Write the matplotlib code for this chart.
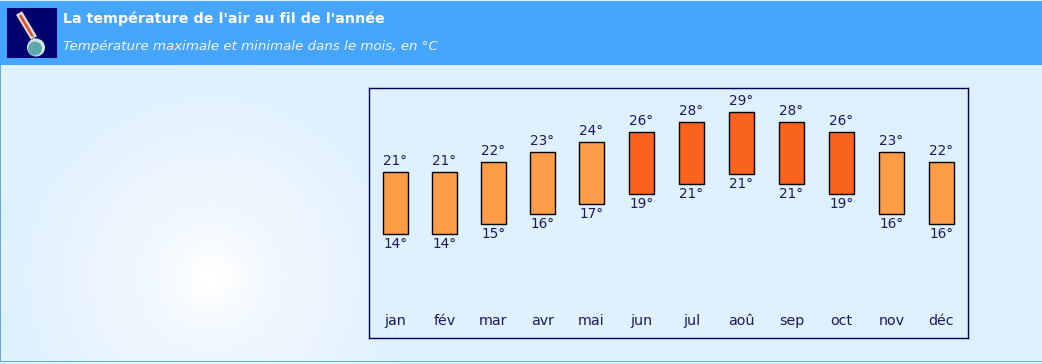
import numpy as np
import matplotlib
matplotlib.use('Agg')
import matplotlib.pyplot as plt
from matplotlib.patches import Circle, Rectangle

plt.rcParams['font.family'] = 'DejaVu Sans'

months = ['jan', 'fév', 'mar', 'avr', 'mai', 'jun', 'jul', 'aoû', 'sep', 'oct', 'nov', 'déc']
# printed values
temp_max = [21, 21, 22, 23, 24, 26, 28, 29, 28, 26, 23, 22]
temp_min = [14, 14, 15, 16, 17, 19, 21, 21, 21, 19, 16, 16]
# the bars in the picture do not follow the printed numbers, so keep what is drawn
bar_top = [21, 21, 22, 23, 24, 25, 26, 27, 26, 25, 23, 22]
bar_bottom = [14.8, 14.8, 15.8, 16.8, 17.8, 18.8, 19.8, 20.8, 19.8, 18.8, 16.8, 15.8]

title = "La température de l'air au fil de l'année"
subtitle = 'Température maximale et minimale dans le mois, en °C'

W, H = 1042, 364
NAVY = '#000050'
TEXT = '#1a1a60'
ORANGE = '#ff9c47'
HOT = '#f9631f'

fig = plt.figure(figsize=(W / 100, H / 100), dpi=100)

# page background in pixel coordinates
bg = fig.add_axes([0, 0, 1, 1])
bg.set_xlim(0, W)
bg.set_ylim(H, 0)
bg.axis('off')

# pale blue with a soft white glow low on the left
yy, xx = np.mgrid[0:H, 0:W]
dist = np.sqrt((xx - 210) ** 2 + (yy - 277) ** 2)
glow = 0.75 * np.clip(1 - dist / 220, 0, 1) + 0.3 * np.exp(-(dist / 38) ** 2)
base = np.array([223, 240, 255]) / 255
img = base + (1 - base)[None, None, :] * np.clip(glow, 0, 1)[:, :, None]
bg.imshow(img, extent=[0, W, H, 0], aspect='auto', zorder=0)

# header band and thin edges
bg.add_patch(Rectangle((0, 1), W, 64, fc='#45a5ff', ec='none', zorder=1))
bg.add_patch(Rectangle((0, 65), 1, 296, fc='#5aaef0', ec='none', zorder=1))
bg.add_patch(Rectangle((0, 361), 400, 1, fc='#5aaef0', ec='none', zorder=1))
bg.add_patch(Rectangle((400, 361), W - 400, 1, fc='#6fc4d4', ec='none', zorder=1))

# thermometer icon
bg.add_patch(Rectangle((7, 8), 50, 50, fc='#00006e', ec='none', zorder=2))
bg.plot([19, 34], [13, 38], color='#e8d8d0', lw=5, solid_capstyle='butt', zorder=3)
bg.plot([20, 32.5], [15, 36], color='#d8502c', lw=1.8, solid_capstyle='butt', zorder=4)
bg.plot([33, 36], [36, 42], color='#9a9ab0', lw=1.2, zorder=3)
bg.add_patch(Circle((36, 47.5), 9, fc='#cfe8e8', ec='none', zorder=3))
bg.add_patch(Circle((35, 48.5), 7, fc='#5fa8b0', ec='none', zorder=4))

bg.text(63, 18.5, title, color='white', fontsize=10.3, fontweight='bold', va='center', zorder=5)
bg.text(63, 46.5, subtitle, color='#f2f8ff', fontsize=9.66, style='italic', va='center', zorder=5)

# chart frame, 10 px per unit
ax = fig.add_axes([369 / W, 1 - 338 / H, 599 / W, 250 / H])
ax.set_facecolor('#dff0ff')
idx = np.arange(len(months))
# columns are 49 px apart up to mai, 50 px after that
x = idx + np.maximum(idx - 4, 0) / 49
ax.set_xlim(-0.54, 11.685)
ax.set_ylim(4.4, 29.4)
colors = [HOT if t >= 25 else ORANGE for t in temp_max]
ax.bar(x, np.array(bar_top) - np.array(bar_bottom), bottom=bar_bottom, width=0.5,
       color=colors, edgecolor='black', linewidth=1)

for i in idx:
    ax.text(x[i], bar_top[i] + 0.42, f'{temp_max[i]}°', ha='center', va='bottom',
            color=TEXT, fontsize=9.8)
    ax.text(x[i], bar_bottom[i] - 0.3, f'{temp_min[i]}°', ha='center', va='top',
            color=TEXT, fontsize=9.8)

ax.set_xticks(x, months)
ax.tick_params(axis='x', length=0, pad=-17.6, labelcolor=TEXT, labelsize=10.3)
ax.set_yticks([])
for s in ax.spines.values():
    s.set_color(NAVY)
    s.set_linewidth(1)

fig.savefig('out.png', dpi=100)
